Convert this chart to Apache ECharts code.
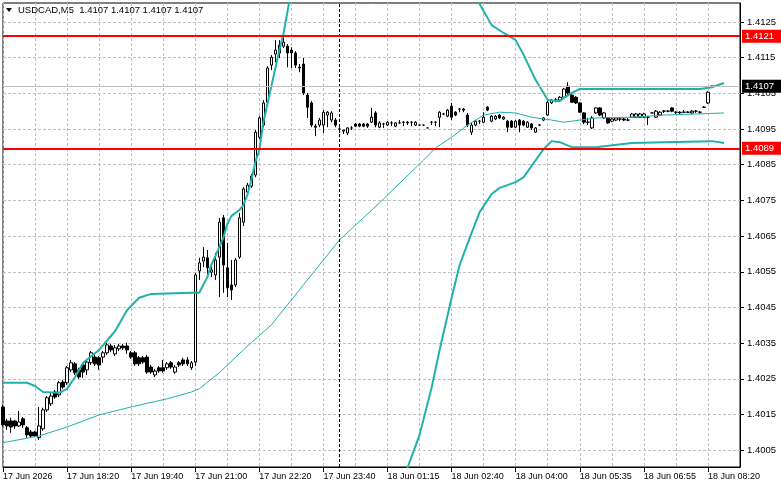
<!DOCTYPE html>
<html><head><meta charset="utf-8">
<script src="https://cdn.jsdelivr.net/npm/echarts@6/dist/echarts.min.js"></script>
<style>html,body{margin:0;padding:0;background:#fff}#c{width:781px;height:489px}</style>
</head><body><div id="c"></div>
<script>
const symbolName = 'USDCAD,M5';
const quote = [1.4107, 1.4107, 1.4107, 1.4107];
const timeLabels = ['17 Jun 2026','17 Jun 18:20','17 Jun 19:40','17 Jun 21:00','17 Jun 22:20','17 Jun 23:40','18 Jun 01:15','18 Jun 02:40','18 Jun 04:00','18 Jun 05:35','18 Jun 06:55','18 Jun 08:20'];
const labelStep = 16;
const slotCount = 185;
const priceTicks = [1.4005,1.4015,1.4025,1.4035,1.4045,1.4055,1.4065,1.4075,1.4085,1.4095,1.4105,1.4115,1.4125];
const levels = [1.4121, 1.40896];
const bid = 1.4107;
const separators = [84];

const opens = [1.40171,1.40132,1.40132,1.40132,1.40118,1.40138,1.40113,1.40101,1.40101,1.40085,1.40110,1.40163,1.40180,1.40213,1.40205,1.40241,1.40239,1.40275,1.40292,1.40275,1.40289,1.40275,1.40295,1.40311,1.40309,1.40311,1.40323,1.40342,1.40320,1.40334,1.40342,1.40342,1.40323,1.40323,1.40309,1.40309,1.40311,1.40283,1.40261,1.40281,1.40281,1.40281,1.40295,1.40269,1.40295,1.40303,1.40303,1.40281,1.40297,1.40552,1.40580,1.40589,1.40549,1.40541,1.40591,1.40701,1.40561,1.40513,1.40513,1.40591,1.40689,1.40773,1.40790,1.40821,1.40927,1.40961,1.41025,1.41129,1.41160,1.41185,1.41182,1.41182,1.41171,1.41163,1.41123,1.41132,1.41045,1.41023,1.40958,1.40961,1.40961,1.40989,1.40975,1.40975,1.40950,1.40944,1.40939,1.40953,1.40964,1.40964,1.40964,1.40964,1.40969,1.40995,1.40955,1.40964,1.40961,1.40967,1.40958,1.40967,1.40969,1.40969,1.40969,1.40961,1.40961,1.40961,1.40953,1.40969,1.40969,1.40983,1.40992,1.40986,1.41014,1.40997,1.41006,1.41006,1.40989,1.40941,1.40961,1.40972,1.40969,1.41011,1.40972,1.40978,1.40989,1.40978,1.40972,1.40972,1.40955,1.40975,1.40972,1.40955,1.40964,1.40941,1.40961,1.40975,1.40989,1.41023,1.41031,1.41031,1.41039,1.41070,1.41045,1.41039,1.41023,1.40995,1.40969,1.40953,1.40995,1.41009,1.40981,1.40981,1.40972,1.40975,1.40978,1.40978,1.40975,1.40983,1.40983,1.40983,1.40983,1.40983,1.40995,1.40983,1.40989,1.41000,1.41000,1.41009,1.40997,1.40997,1.40997,1.40997,1.40995,1.41000,1.40997,1.41011,1.41023,1.41070];
const closes = [1.40121,1.40118,1.40115,1.40118,1.40129,1.40121,1.40093,1.40090,1.40090,1.40118,1.40163,1.40197,1.40202,1.40199,1.40239,1.40227,1.40281,1.40295,1.40267,1.40255,1.40269,1.40297,1.40323,1.40292,1.40289,1.40323,1.40345,1.40331,1.40337,1.40342,1.40337,1.40331,1.40311,1.40292,1.40292,1.40297,1.40269,1.40269,1.40272,1.40272,1.40272,1.40292,1.40283,1.40283,1.40289,1.40292,1.40292,1.40295,1.40541,1.40575,1.40591,1.40561,1.40555,1.40583,1.40689,1.40569,1.40505,1.40499,1.40583,1.40701,1.40782,1.40793,1.40818,1.40941,1.40981,1.41023,1.41121,1.41151,1.41171,1.41163,1.41193,1.41163,1.41163,1.41129,1.41121,1.41051,1.41011,1.40961,1.40955,1.40975,1.40997,1.40997,1.40995,1.40961,1.40950,1.40947,1.40953,1.40953,1.40958,1.40958,1.40958,1.40958,1.40983,1.40961,1.40967,1.40964,1.40969,1.40967,1.40967,1.40967,1.40969,1.40967,1.40969,1.40969,1.40961,1.40961,1.40953,1.40969,1.40969,1.40997,1.40992,1.41003,1.40983,1.40989,1.41006,1.41003,1.40961,1.40961,1.40972,1.40972,1.40983,1.41003,1.40986,1.40986,1.40981,1.40983,1.40955,1.40955,1.40972,1.40961,1.40961,1.40969,1.40953,1.40953,1.40961,1.40981,1.41025,1.41031,1.41031,1.41039,1.41062,1.41051,1.41025,1.41023,1.40997,1.40969,1.40969,1.40981,1.41009,1.40989,1.40995,1.40967,1.40978,1.40981,1.40978,1.40975,1.40975,1.40992,1.40992,1.40992,1.40992,1.40983,1.40995,1.41000,1.40997,1.41000,1.41000,1.41000,1.40997,1.40995,1.40997,1.40997,1.41000,1.41000,1.40997,1.41011,1.41053,1.41070];
const lows = [1.40115,1.40107,1.40099,1.40110,1.40115,1.40113,1.40085,1.40085,1.40087,1.40079,1.40104,1.40157,1.40174,1.40194,1.40199,1.40222,1.40233,1.40269,1.40261,1.40250,1.40253,1.40261,1.40289,1.40286,1.40275,1.40295,1.40317,1.40325,1.40314,1.40328,1.40331,1.40320,1.40306,1.40286,1.40286,1.40292,1.40264,1.40264,1.40255,1.40267,1.40267,1.40275,1.40278,1.40264,1.40283,1.40286,1.40286,1.40275,1.40286,1.40527,1.40563,1.40541,1.40535,1.40527,1.40479,1.40491,1.40479,1.40471,1.40507,1.40586,1.40678,1.40765,1.40785,1.40815,1.40922,1.40955,1.41020,1.41115,1.41137,1.41149,1.41177,1.41123,1.41121,1.41121,1.41109,1.41045,1.40981,1.40955,1.40930,1.40955,1.40939,1.40955,1.40969,1.40955,1.40939,1.40936,1.40933,1.40947,1.40955,1.40955,1.40955,1.40953,1.40967,1.40955,1.40953,1.40953,1.40958,1.40958,1.40955,1.40964,1.40958,1.40961,1.40958,1.40958,1.40961,1.40958,1.40953,1.40961,1.40958,1.40955,1.40989,1.40983,1.40975,1.40986,1.40997,1.40997,1.40955,1.40933,1.40958,1.40964,1.40967,1.41000,1.40969,1.40975,1.40978,1.40975,1.40941,1.40953,1.40953,1.40941,1.40958,1.40953,1.40947,1.40939,1.40958,1.40972,1.40986,1.41020,1.41025,1.41028,1.41037,1.41045,1.41023,1.41020,1.40995,1.40964,1.40961,1.40950,1.40992,1.40986,1.40978,1.40964,1.40969,1.40972,1.40972,1.40972,1.40972,1.40981,1.40981,1.40981,1.40981,1.40961,1.40995,1.40981,1.40986,1.40995,1.40997,1.40997,1.40992,1.40992,1.40997,1.40995,1.40992,1.40995,1.40992,1.41009,1.41020,1.41070];
const highs = [1.40177,1.40138,1.40141,1.40135,1.40160,1.40143,1.40118,1.40107,1.40104,1.40171,1.40169,1.40202,1.40211,1.40219,1.40244,1.40247,1.40286,1.40303,1.40297,1.40281,1.40295,1.40303,1.40328,1.40317,1.40314,1.40328,1.40351,1.40348,1.40345,1.40348,1.40348,1.40351,1.40328,1.40328,1.40314,1.40314,1.40317,1.40289,1.40278,1.40286,1.40303,1.40297,1.40300,1.40289,1.40300,1.40309,1.40311,1.40300,1.40547,1.40589,1.40619,1.40611,1.40575,1.40603,1.40701,1.40709,1.40631,1.40583,1.40589,1.40715,1.40787,1.40799,1.40824,1.40947,1.40986,1.41031,1.41126,1.41157,1.41199,1.41199,1.41207,1.41188,1.41179,1.41168,1.41132,1.41149,1.41051,1.41028,1.40964,1.40981,1.41003,1.41000,1.41000,1.40981,1.40955,1.40947,1.40955,1.40958,1.40967,1.40967,1.40967,1.40967,1.41009,1.41000,1.40972,1.40967,1.40972,1.40972,1.40969,1.40975,1.40972,1.40972,1.40972,1.40972,1.40961,1.40961,1.40953,1.40972,1.40972,1.41000,1.40995,1.41006,1.41023,1.41000,1.41009,1.41009,1.40995,1.40967,1.40975,1.40975,1.40997,1.41014,1.40989,1.40989,1.40992,1.40986,1.40975,1.40975,1.40975,1.40978,1.40975,1.40972,1.40967,1.40955,1.40964,1.40983,1.41031,1.41034,1.41037,1.41042,1.41065,1.41081,1.41051,1.41042,1.41025,1.40997,1.40981,1.40986,1.41011,1.41011,1.40997,1.40983,1.40981,1.40983,1.40981,1.40981,1.40981,1.40995,1.40995,1.40995,1.40995,1.40986,1.40995,1.41003,1.41000,1.41003,1.41003,1.41011,1.41000,1.41000,1.41003,1.41000,1.41003,1.41003,1.41000,1.41014,1.41056,1.41070];

const upperIdx = [0,6,8,10,14,16,18,20,24,28,31,34,37,47,49,51,52,53,55,56,57,59,60,61,62,63,64,65,67,69,70,71,72,74,76,82,90,100,105,110,114,118,119,122,125,128,130,133,136,139,140,142,144,148,174,177,180];
const upperVal = [1.40239,1.40239,1.40230,1.40213,1.40211,1.40222,1.40255,1.40295,1.40331,1.40384,1.40443,1.40477,1.40488,1.40491,1.40491,1.40535,1.40569,1.40594,1.40645,1.40684,1.40706,1.40723,1.40737,1.40765,1.40807,1.40857,1.40891,1.40969,1.41070,1.41171,1.41216,1.41277,1.41340,1.41430,1.41550,1.41650,1.41680,1.41630,1.41560,1.41440,1.41370,1.41320,1.41300,1.41241,1.41219,1.41199,1.41157,1.41087,1.41031,1.41028,1.41037,1.41051,1.41062,1.41062,1.41062,1.41067,1.41079];
const midIdx = [0,9,16,24,33,41,47,49,54,60,67,72,77,84,94,105,108,112,116,120,124,128,132,137,140,148,157,165,173,180];
const midVal = [1.40071,1.40090,1.40115,1.40149,1.40174,1.40194,1.40213,1.40222,1.40267,1.40331,1.40401,1.40471,1.40541,1.40639,1.40743,1.40863,1.40897,1.40927,1.40961,1.40989,1.40997,1.40995,1.40983,1.40975,1.40969,1.40981,1.40983,1.40989,1.40992,1.40995];
const lowerIdx = [0,10,16,20,24,28,34,47,55,62,69,75,85,90,95,101,104,107,109,112,114,117,119,122,124,128,130,133,135,137,139,142,148,157,165,177,180];
const lowerVal = [1.39903,1.39973,1.39990,1.39975,1.39967,1.39936,1.39877,1.39936,1.39922,1.39860,1.39650,1.39580,1.39580,1.39680,1.39820,1.40001,1.40093,1.40225,1.40331,1.40477,1.40569,1.40659,1.40717,1.40768,1.40785,1.40801,1.40815,1.40863,1.40894,1.40916,1.40913,1.40899,1.40899,1.40911,1.40913,1.40916,1.40911];

const FONT = '"Liberation Sans", Arial, sans-serif';
const cats = [];
for (let i = 0; i < slotCount; i++) cats.push(i % labelStep === 0 && timeLabels[i / labelStep] ? timeLabels[i / labelStep] : '');
const candles = opens.map((o, i) => [o, closes[i], lows[i], highs[i]]);
const pairs = (idx, val) => idx.map((k, i) => [k, val[i]]);
const fmt4 = v => (Math.floor(v * 10000 + 1e-6) / 10000).toFixed(4);
const BAND = '#20b2aa';

const boxLabel = (bg, v) => ({
  show: true, position: 'end', distance: 2, formatter: () => fmt4(v),
  backgroundColor: bg, color: '#fff', fontFamily: FONT, fontSize: 9.5, lineHeight: 11,
  padding: [1, 7, 1, 3]
});

const chart = echarts.init(document.getElementById('c'), null, {renderer: 'canvas'});
chart.setOption({
  animation: false,
  backgroundColor: '#fff',
  grid: {left: 3, right: 41, top: 3, bottom: 22, show: true, borderColor: '#000', borderWidth: 1},
  xAxis: {
    type: 'category', data: cats, boundaryGap: false,
    axisLine: {show: true, lineStyle: {color: '#000', width: 1}},
    axisTick: {show: true, interval: labelStep - 1, length: 5, lineStyle: {color: '#000'}},
    axisLabel: {interval: labelStep - 1, align: 'left', margin: 5, fontSize: 9, fontFamily: FONT, color: '#000'},
    splitLine: {show: true, interval: labelStep / 2 - 1, lineStyle: {color: '#c0c0c0', type: [3, 2], width: 1}}
  },
  yAxis: {
    type: 'value', position: 'right', min: 1.40003, max: 1.41303,
    axisLine: {show: true, lineStyle: {color: '#000', width: 1}},
    axisTick: {show: true, length: 4, customValues: priceTicks, lineStyle: {color: '#000'}},
    axisLabel: {customValues: priceTicks, formatter: v => v.toFixed(4), margin: 7, fontSize: 9.5, fontFamily: FONT, color: '#000'},
    splitLine: {show: true, lineStyle: {color: '#c0c0c0', type: [3, 2], width: 1}}
  },
  graphic: [
    {type: 'polygon', shape: {points: [[6, 8], [12, 8], [9, 12]]}, style: {fill: '#000'}},
    {type: 'text', left: 18, top: 5, style: {text: symbolName + '  ' + quote.map(q => q.toFixed(4)).join(' '), font: '9.5px ' + FONT, fill: '#000'}}
  ],
  series: [
    {
      type: 'candlestick', data: candles, barWidth: 3,
      itemStyle: {color: '#fff', color0: '#000', borderColor: '#000', borderColor0: '#000', borderWidth: 1},
      markLine: {
        silent: true, symbol: ['none', 'none'], animation: false,
        data: separators.map(s => ({xAxis: s, lineStyle: {color: '#000', width: 1, type: [3, 2]}, label: {show: false}}))
      }
    },
    {type: 'line', data: pairs(upperIdx, upperVal), symbol: 'none', lineStyle: {color: BAND, width: 2}, clip: true, z: 3},
    {
      type: 'line', data: pairs(midIdx, midVal), symbol: 'none', lineStyle: {color: BAND, width: 1}, clip: true, z: 3,
      markLine: {
        silent: true, symbol: ['none', 'none'], animation: false, precision: 5,
        data: [
          [{coord: [0, bid]}, {coord: [slotCount - 1, bid], lineStyle: {color: '#c0c0c0', width: 1, type: 'solid'}, label: boxLabel('#000', bid)}],
          [{coord: [0, levels[0]]}, {coord: [slotCount - 1, levels[0]], lineStyle: {color: '#ff0000', width: 2, type: 'solid'}, label: boxLabel('#ff0000', levels[0])}],
          [{coord: [0, levels[1]]}, {coord: [slotCount - 1, levels[1]], lineStyle: {color: '#ff0000', width: 2, type: 'solid'}, label: boxLabel('#ff0000', levels[1])}]
        ]
      }
    },
    {type: 'line', data: pairs(lowerIdx, lowerVal), symbol: 'none', lineStyle: {color: BAND, width: 2}, clip: true, z: 3}
  ]
});
</script></body></html>
